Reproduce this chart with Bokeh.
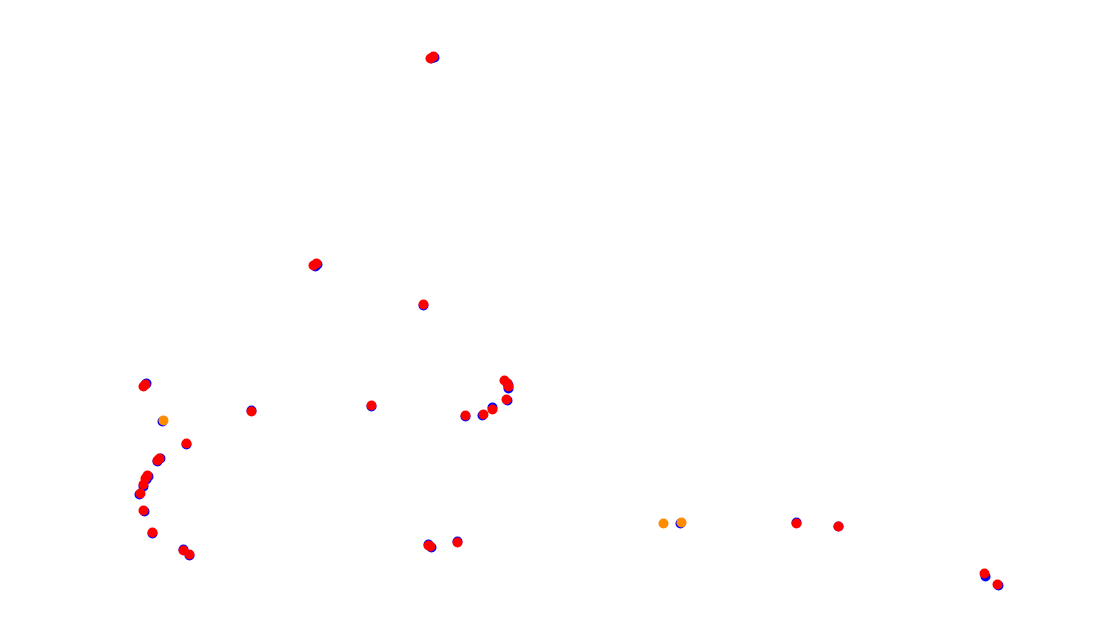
from bokeh.plotting import figure
from bokeh.models import Range1d
from bokeh.embed import file_html
from bokeh.resources import INLINE

# Series values (page-pixel-like track coordinates)
blue_x = [431, 434, 315, 317, 423, 145, 146, 162, 186, 157, 160, 148, 146, 143, 139,
          144, 152, 183, 189, 251, 371, 465, 482, 492, 507, 508, 508, 507, 428, 431,
          457, 680, 796, 838, 985, 998]
blue_y = [58, 57, 266, 264, 305, 384, 383, 421, 444, 461, 458, 476, 479, 486, 494,
          511, 533, 549, 555, 410, 406, 416, 415, 407, 383, 385, 388, 400, 544, 547,
          541, 523, 522, 526, 576, 585]

red_x = [430, 433, 313, 316, 423, 143, 145, 186, 157, 159, 147, 145, 143, 140,
         143, 152, 183, 189, 251, 371, 465, 483, 492, 504, 507, 508, 506, 428, 430,
         457, 796, 838, 984, 997]
red_y = [58, 56, 265, 263, 304, 386, 384, 443, 460, 458, 475, 478, 484, 493,
         510, 532, 550, 554, 411, 405, 415, 414, 409, 380, 383, 386, 399, 545, 546,
         542, 523, 526, 573, 584]

orange_x = [163, 663, 681]
orange_y = [420, 523, 522]

W, H = 1091, 619
p = figure(width=W, height=H, output_backend="svg", toolbar_location=None,
           x_axis_type=None, y_axis_type=None, min_border=0,
           x_range=Range1d(0, W), y_range=Range1d(H, 0))
p.outline_line_color = None
p.xgrid.visible = False
p.ygrid.visible = False
p.background_fill_color = "white"
p.border_fill_color = "white"

p.scatter(blue_x, blue_y, size=10, color="blue", line_color=None)
p.scatter(orange_x, orange_y, size=10, color="darkorange", line_color=None)
p.scatter(red_x, red_y, size=10, color="red", line_color=None)

open("out.html", "w").write(file_html(p, INLINE))
